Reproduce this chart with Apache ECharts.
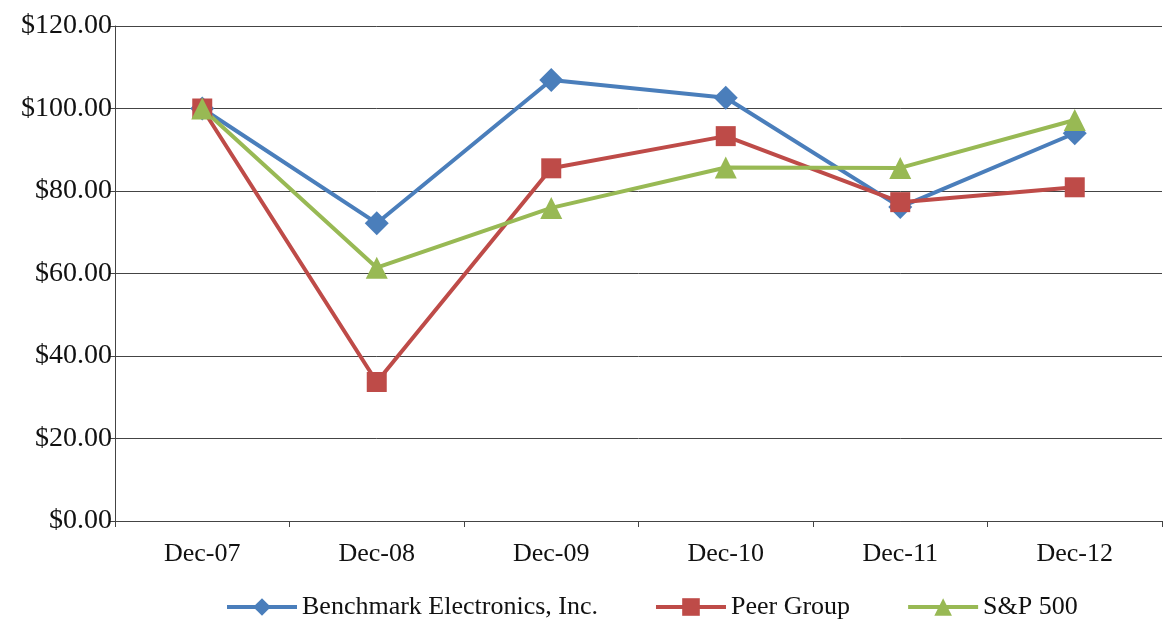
<!DOCTYPE html>
<html><head><meta charset="utf-8">
<script src="https://cdn.jsdelivr.net/npm/echarts@6/dist/echarts.min.js"></script>
<style>html,body{margin:0;padding:0;background:#fff}#c{width:1164px;height:625px}</style>
</head><body><div id="c"></div>
<script>
const categories = ["Dec-07","Dec-08","Dec-09","Dec-10","Dec-11","Dec-12"];
const benchmark = [100, 72.2, 106.9, 102.6, 76.1, 94.0];
const peer = [100, 33.7, 85.5, 93.3, 77.3, 80.9];
const sp500 = [100, 61.4, 75.9, 85.7, 85.6, 97.2];
const font = "Liberation Serif";
const chart = echarts.init(document.getElementById('c'));
function s(name, data, color, symbol, size){
  return {name, type:'line', data, symbol, symbolSize:size, color,
    lineStyle:{width:4,color}, itemStyle:{color}};
}
chart.setOption({
  animation:false,
  textStyle:{fontFamily:font},
  grid:{left:115,right:2,top:26,bottom:104},
  legend:{bottom:0,left:220,itemWidth:70,itemHeight:22,itemGap:56,
    lineStyle:{width:4},
    textStyle:{fontFamily:font,fontSize:26,color:'#111'}},
  xAxis:{type:'category',data:categories,boundaryGap:true,
    axisLine:{lineStyle:{color:'#444',width:1}},
    axisTick:{show:true,length:6,lineStyle:{color:'#444'}},
    axisLabel:{fontFamily:font,fontSize:26,color:'#111',margin:20}},
  yAxis:{type:'value',min:0,max:120,interval:20,
    axisLine:{show:true,lineStyle:{color:'#444'}},
    axisTick:{show:true,length:6,lineStyle:{color:'#444'}},
    splitLine:{lineStyle:{color:'#444',width:1}},
    axisLabel:{fontFamily:font,fontSize:28,color:'#111',margin:3,
      formatter:v=>'$'+v.toFixed(2)}},
  series:[
    s('Benchmark Electronics, Inc.',benchmark,'#4a7ebb','diamond',24),
    s('Peer Group',peer,'#be4b48','rect',20),
    s('S&P 500',sp500,'#98b954','triangle',22)
  ]
});
</script></body></html>
